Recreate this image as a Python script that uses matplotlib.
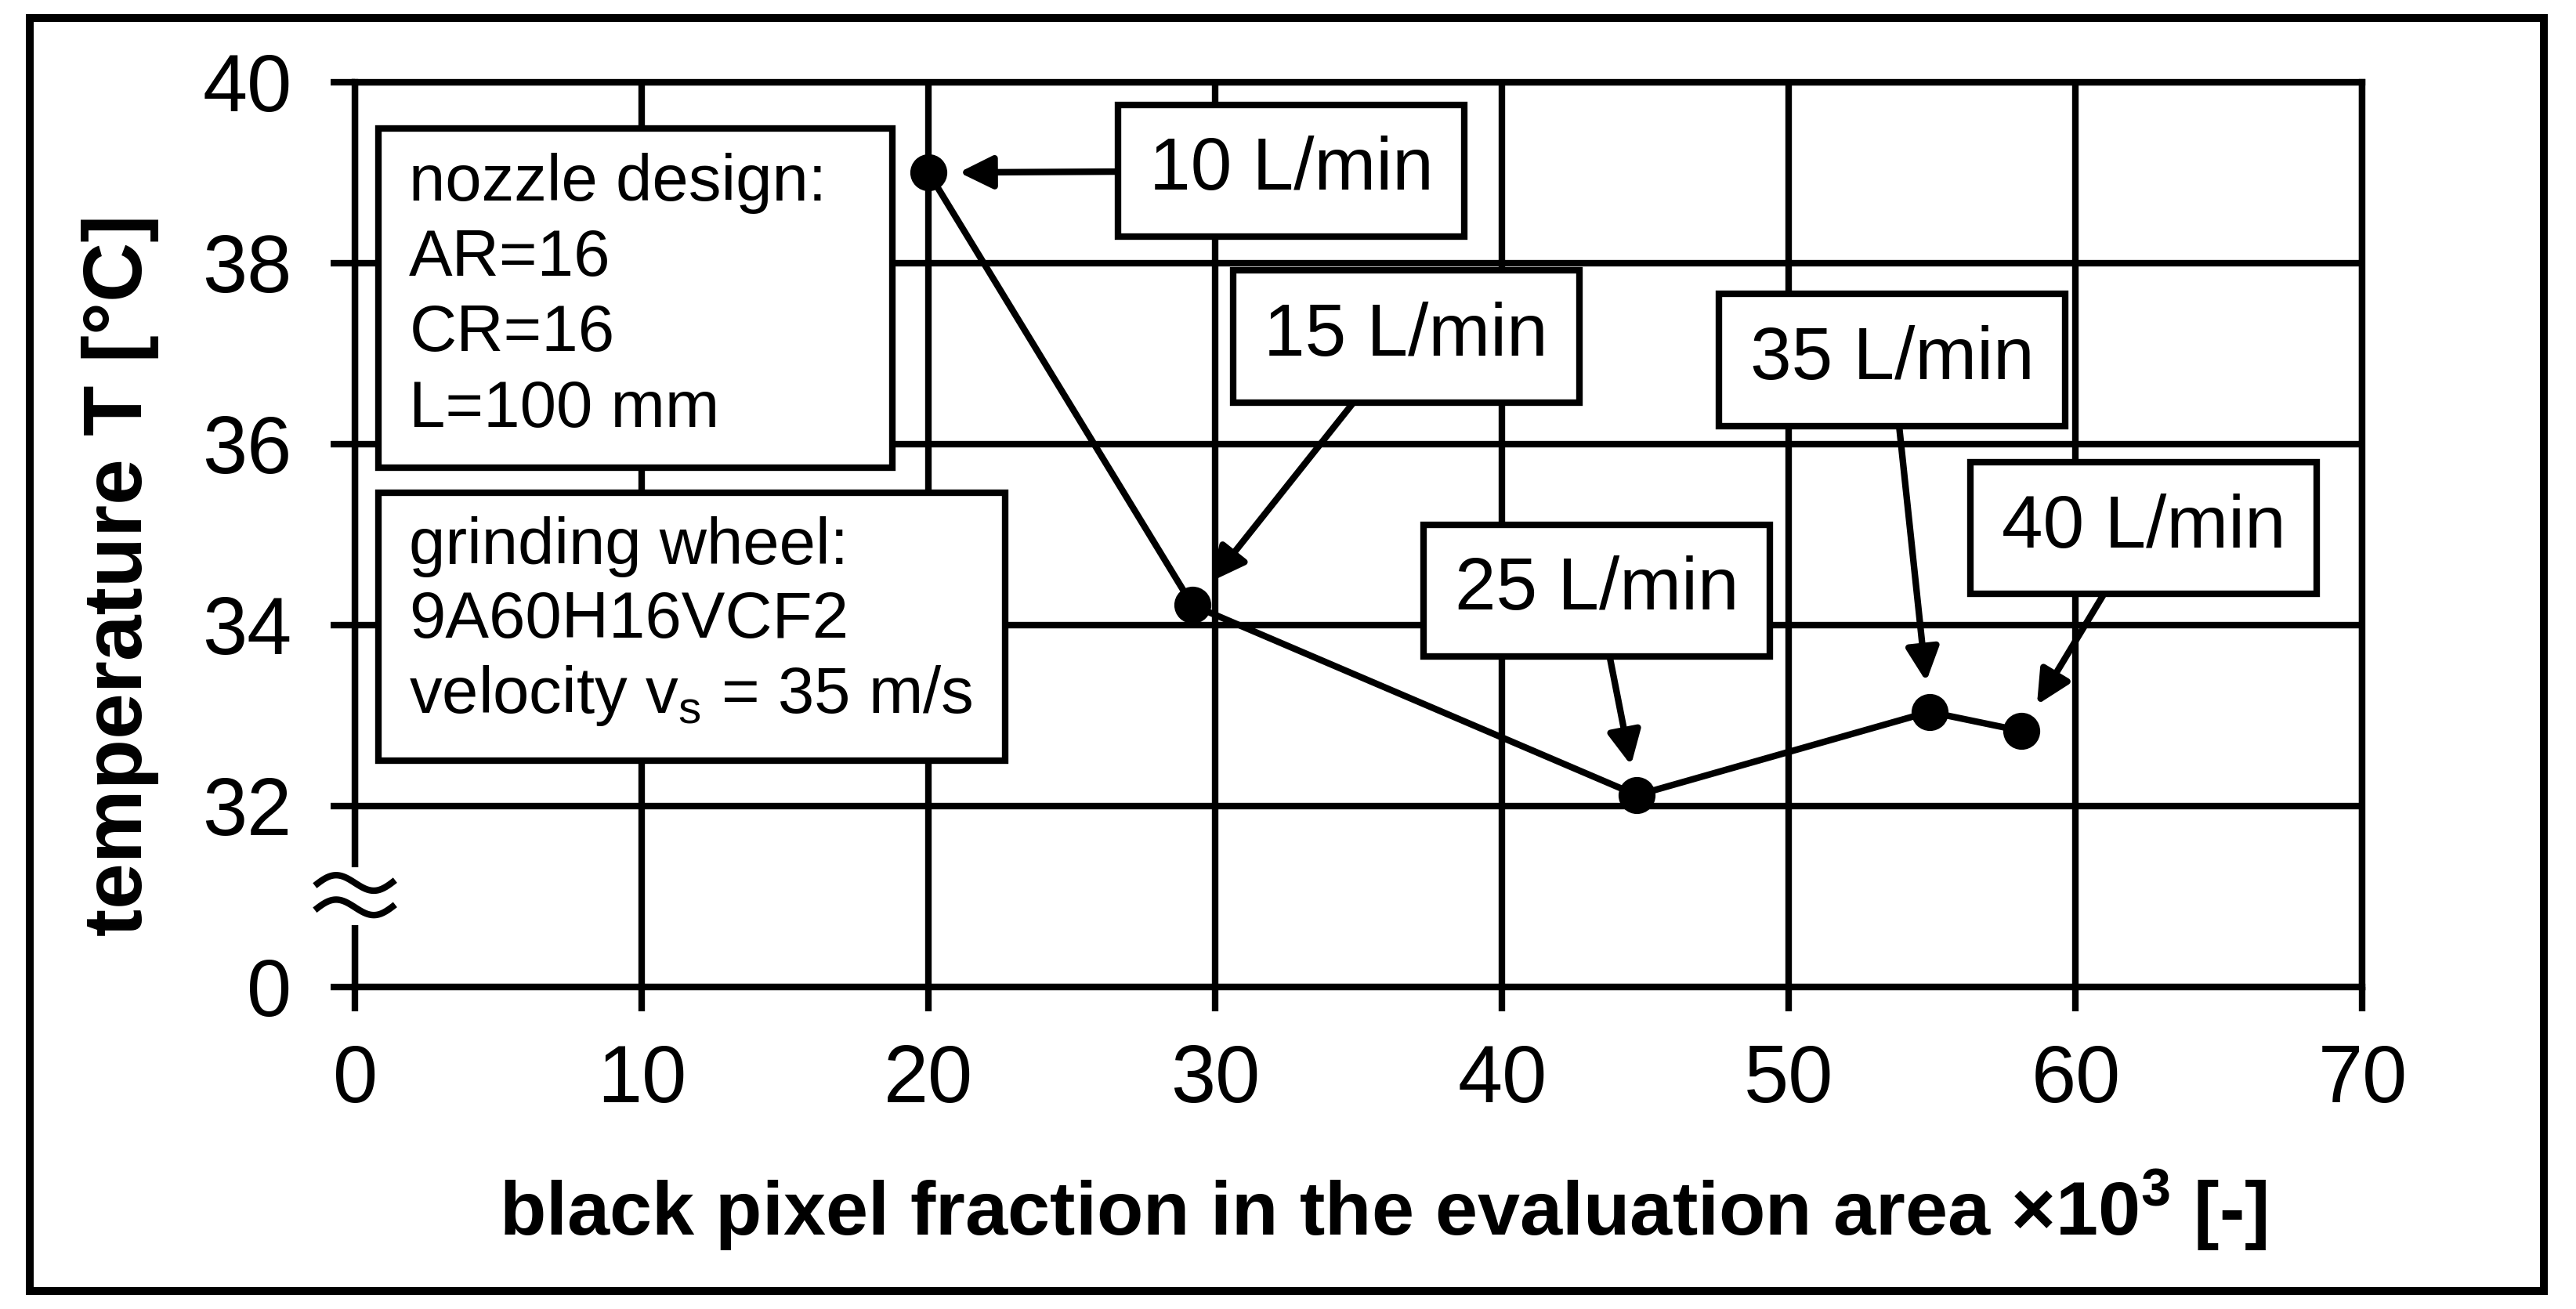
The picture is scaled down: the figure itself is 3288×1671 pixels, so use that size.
# coding: utf-8

"""
Temperature vs. black pixel fraction for several coolant flow rates
"""

import numpy as np
import matplotlib
matplotlib.use("Agg")
import matplotlib.pyplot as plt
from matplotlib.patches import Rectangle

plt.rcParams['font.family'] = ['Liberation Sans', 'DejaVu Sans']
plt.rcParams['mathtext.fontset'] = 'custom'
plt.rcParams['mathtext.rm'] = 'Liberation Sans'
plt.rcParams['mathtext.bf'] = 'Liberation Sans:bold'

#==========
# Data

flow_rates = [10, 15, 25, 35, 40]
pixel_fraction = [20.0, 29.2, 44.7, 54.9, 58.1]
temperature = [39.0, 34.22, 32.12, 33.04, 32.83]

# where each label box sits (box centre, data coords)
label_x = [32.65, 36.65, 43.3, 53.6, 62.37]
label_y = [39.02, 37.19, 34.38, 36.93, 35.07]

x_ticks = [0, 10, 20, 30, 40, 50, 60, 70]
y_ticks = [30, 32, 34, 36, 38, 40]          # 30 stands in for 0 (axis break)
y_tick_labels = ["0", "32", "34", "36", "38", "40"]

nozzle_text = "nozzle design:\nAR=16\nCR=16\nL=100 mm"
wheel_text = "grinding wheel:\n9A60H16VCF2\nvelocity v$_\\mathregular{s}$ = 35 m/s"

LW = 3.0


def main():
	fig = plt.figure(figsize=(16.44, 8.355), dpi=200)
	ax = fig.add_axes([0.1378, 0.246, 0.7793, 0.6913])

	# outer frame
	fig.patches.append(Rectangle((0.0115, 0.014), 0.976, 0.972, transform=fig.transFigure,
		fill=False, ec='black', lw=3.6))

	# data
	ax.plot(pixel_fraction, temperature, color='black', lw=LW, marker='o', ms=16, zorder=4)

	# axes
	ax.set_xlim(0, 70)
	ax.set_ylim(30, 40)
	ax.set_xticks(x_ticks)
	ax.set_yticks(y_ticks)
	ax.set_yticklabels(y_tick_labels)
	ax.grid(True, color='black', lw=LW)
	for s in ax.spines.values():
		s.set_linewidth(LW)
	ax.tick_params(direction='out', length=11, width=LW, labelsize=37)
	ax.tick_params(axis='x', pad=15)
	ax.tick_params(axis='y', pad=18)

	ax.set_xlabel("black pixel fraction in the evaluation area \u00d710$^\\mathbf{3}$ [-]",
		fontsize=35, fontweight='bold', labelpad=22)
	ax.xaxis.label.set_x(0.512)
	ax.set_ylabel("temperature T [\u00b0C]", fontsize=38, fontweight='bold', labelpad=20)
	ax.yaxis.label.set_y(0.455)

	# axis break mark
	ax.plot([0, 0], [30.78, 31.24], color='white', lw=LW * 2.5, clip_on=False, zorder=5)
	t = np.linspace(-1, 1, 60)
	for yc in [31.15, 30.88]:
		ax.plot(1.4 * t, yc - 0.1 * np.sin(np.pi * t) + 0.03 * t, color='black',
			lw=LW, clip_on=False, zorder=6, solid_capstyle='butt')

	# info boxes
	ax.add_patch(Rectangle((0.0115, 0.5735), 0.256, 0.3755, transform=ax.transAxes,
		fc='white', ec='black', lw=LW, zorder=3))
	ax.add_patch(Rectangle((0.0115, 0.2505), 0.3125, 0.2958, transform=ax.transAxes,
		fc='white', ec='black', lw=LW, zorder=3))
	ax.text(0.027, 0.922, nozzle_text, transform=ax.transAxes, fontsize=30,
		va='top', ha='left', linespacing=1.3, zorder=4)
	ax.text(0.027, 0.52, wheel_text, transform=ax.transAxes, fontsize=30,
		va='top', ha='left', linespacing=1.26, zorder=4)

	# flow rate labels
	for q, px, ty, lx, ly in zip(flow_rates, pixel_fraction, temperature, label_x, label_y):
		ax.annotate(f"{q} L/min", xy=(px, ty), xytext=(lx, ly), fontsize=34,
			ha='center', va='center', zorder=5,
			bbox=dict(boxstyle='square,pad=0.42', fc='white', ec='black', lw=LW),
			arrowprops=dict(arrowstyle='-|>,head_length=0.65,head_width=0.32', mutation_scale=20,
				color='black', lw=LW, shrinkA=0, shrinkB=14))

	fig.savefig("out.png", dpi=200)


if __name__ == "__main__":
	main()
